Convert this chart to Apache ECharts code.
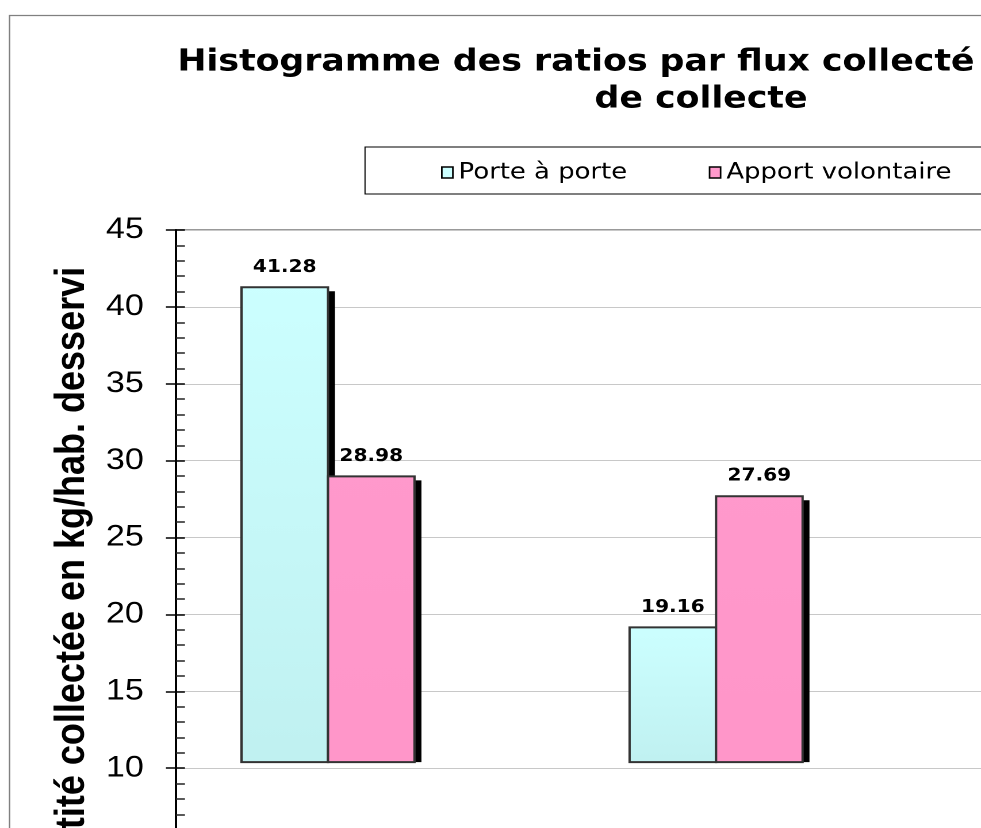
<!DOCTYPE html>
<html>
<head>
<meta charset="utf-8">
<script src="https://cdn.jsdelivr.net/npm/echarts@6/dist/echarts.min.js"></script>
<style>
  html, body { margin: 0; padding: 0; background: #fff; overflow: hidden; }
  #wrap { width: 981px; height: 828px; overflow: hidden; position: relative; }
  #chart { width: 853px; height: 828px; transform: scaleX(1.15); transform-origin: 0 0; }
</style>
</head>
<body>
<div id="wrap"><div id="chart"></div></div>
<script>
// ---- data ----
const categories = ["Flux 1", "Flux 2"];
const seriesNames = ["Porte à porte", "Apport volontaire"];
const porteAPorte = [41.28, 19.16];
const apportVolontaire = [28.98, 27.69];
const yTicks = [0, 5, 10, 15, 20, 25, 30, 35, 40, 45];

const titleText = "Histogramme des ratios par flux collecté et par mode\nde collecte";
const yName = "Quantité collectée en kg/hab. desservi";

// ---- style constants ----
const visibleFloor = 10.4;      // bars are cut off just above the 10 gridline
const barWidthRatio = 0.2229;   // width of one bar, in category units
const shadowDx = 6, shadowDy = 4;
const fills = [
  ['#CCFFFF', '#C0F1F1'],
  ['#FF99CC', '#FF96C9']
];

const chart = echarts.init(document.getElementById('chart'), null, { renderer: 'canvas', devicePixelRatio: 2 });

function makeRender(sIdx) {
  return function (params, api) {
    const i = api.value(0), v = api.value(1);
    const top = api.coord([i, v]);
    const base = api.coord([i, visibleFloor]);
    const unit = api.size([1, 0])[0];
    const bw = unit * barWidthRatio;
    const x0 = sIdx === 0 ? top[0] - bw : top[0];
    const h = base[1] - top[1];
    return {
      type: 'group',
      children: [
        { type: 'rect', shape: { x: x0 + shadowDx, y: top[1] + shadowDy, width: bw, height: h - shadowDy },
          style: { fill: '#000' } },
        { type: 'rect', shape: { x: x0, y: top[1], width: bw, height: h },
          style: { fill: new echarts.graphic.LinearGradient(0, 0, 0, 1, [
              { offset: 0, color: fills[sIdx][0] }, { offset: 1, color: fills[sIdx][1] }]),
            stroke: '#333', lineWidth: 2 } },
        { type: 'text', style: { text: v.toFixed(2), x: x0 + bw / 2, y: top[1] - 11,
            align: 'center', verticalAlign: 'bottom',
            font: 'bold 17.5px "DejaVu Sans", Verdana, sans-serif', fill: '#000' } }
      ]
    };
  };
}

const valueLists = [porteAPorte, apportVolontaire];

const option = {
  animation: false,
  backgroundColor: '#fff',
  graphic: [
    { type: 'rect', silent: true, z: -10,
      shape: { x: 8.3, y: 15.5, width: 2000, height: 2000 },
      style: { fill: 'none', stroke: '#808080', lineWidth: 1.3 } },
    { type: 'rect', silent: true, z: -5,
      shape: { x: 317.4, y: 147, width: 2000, height: 47 },
      style: { fill: '#fff', stroke: '#000', lineWidth: 1 } }
  ],
  title: {
    text: titleText,
    left: 609.6, top: 44, padding: 0, textAlign: 'center',
    textStyle: { fontFamily: '"DejaVu Sans", Verdana, sans-serif', fontWeight: 'bold', fontSize: 30.2, lineHeight: 37, color: '#000' }
  },
  legend: {
    data: seriesNames,
    orient: 'horizontal',
    left: 383.5, top: 161,
    padding: 0,
    itemGap: 71,
    itemWidth: 9.6, itemHeight: 11,
    icon: 'rect',
    itemStyle: { borderColor: '#000', borderWidth: 1.4 },
    textStyle: { fontFamily: '"DejaVu Sans", Verdana, sans-serif', fontSize: 22.5, lineHeight: 23, color: '#000' }
  },
  grid: {
    left: 153, right: -150, top: 230, bottom: -94,
    outerBoundsMode: 'none',
    containLabel: false,
    show: true, borderColor: '#999', borderWidth: 2, backgroundColor: 'transparent'
  },
  xAxis: {
    type: 'value', min: -0.3918, max: 2.127, show: false
  },
  yAxis: [
    {
      type: 'value', position: 'left', min: yTicks[0], max: yTicks[yTicks.length - 1], interval: 5,
      name: yName, nameLocation: 'middle', nameGap: 57,
      nameTextStyle: { fontFamily: '"Liberation Sans", Arial, sans-serif', fontWeight: 'bold', fontSize: 36, color: '#000',
        padding: [0, 36, 0, 0] },
      axisLine: { show: true, onZero: false, lineStyle: { color: '#000', width: 2 } },
      axisTick: { show: true, inside: false, length: 8.7, lineStyle: { color: '#000', width: 1.5 } },
      axisLabel: { fontFamily: '"Liberation Sans", Arial, sans-serif', fontSize: 29.5, color: '#000', margin: 28 },
      splitLine: { show: true, lineStyle: { color: '#C8C8C8', width: 1 } }
    },
    {
      type: 'value', position: 'left', offset: 0, min: yTicks[0], max: yTicks[yTicks.length - 1], interval: 5,
      axisLine: { show: false, onZero: false },
      axisLabel: { show: false },
      splitLine: { show: false },
      axisTick: { show: true, inside: true, length: 7.8, lineStyle: { color: '#000', width: 1.5 } },
      minorTick: { show: true, splitNumber: 5, length: 7.8, lineStyle: { color: '#222', width: 1.5 } }
    }
  ],
  series: seriesNames.map((name, sIdx) => ({
    type: 'custom',
    name: name,
    xAxisIndex: 0, yAxisIndex: 0,
    itemStyle: { color: fills[sIdx][0] },
    encode: { x: 0, y: 1 },
    data: categories.map((c, i) => [i, valueLists[sIdx][i]]),
    renderItem: makeRender(sIdx)
  }))
};

chart.setOption(option);
</script>
</body>
</html>
